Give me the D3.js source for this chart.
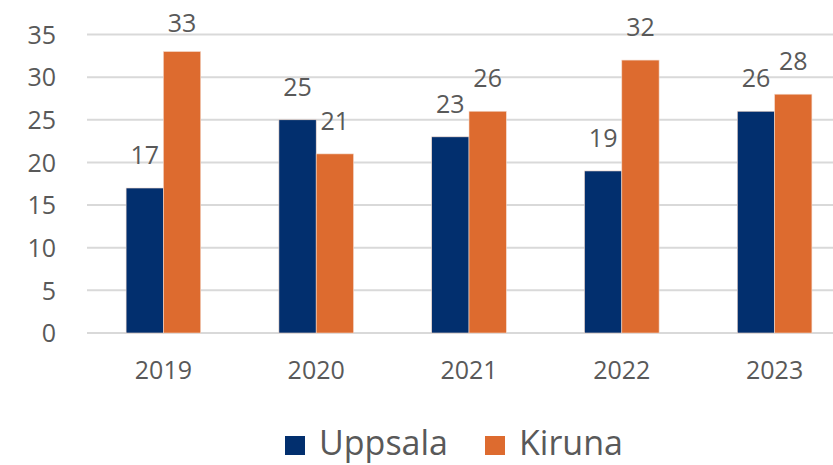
<!DOCTYPE html>
<html lang="sv">
<head>
    <meta charset="UTF-8">
    <title>Uppsala och Kiruna</title>
<script src="https://d3js.org/d3.v7.min.js"></script>
    <style>
        body{
            margin: 0;
            background: #fff;
        }
        text{
            font-family: "Open Sans", sans-serif;
            fill: #595959;
        }
    </style>
</head>
<body>
<svg width="833" height="465" id="canvas"></svg>
<script>

    // data
    const years = ["2019", "2020", "2021", "2022", "2023"];
    const seriesNames = ["Uppsala", "Kiruna"];
    const uppsala = [17, 25, 23, 19, 26];
    const kiruna = [33, 21, 26, 32, 28];
    const yTicks = [0, 5, 10, 15, 20, 25, 30, 35];
    const colors = ["#022F6E", "#DD6B2F"];

    const svg = d3.select("svg");

    const plotLeft = 87, plotRight = 851, plotTop = 34.5, plotBottom = 333;

    const xScale = d3.scaleBand().domain(years).range([plotLeft, plotRight]).padding(0);
    const barW = 37.3;
    const xSub = d3.scaleBand().domain(seriesNames).range([-barW, barW]);
    const yScale = d3.scaleLinear().domain([0, 35]).range([plotBottom, plotTop]);

    // gridlines
    svg.append("g").selectAll("line")
        .data(yTicks)
        .enter().append("line")
        .attr("x1", plotLeft).attr("x2", 833)
        .attr("y1", d => yScale(d)).attr("y2", d => yScale(d))
        .attr("stroke", "#d9d9d9").attr("stroke-width", 2);

    // y axis labels
    const yAxis = d3.axisLeft(yScale).tickValues(yTicks).tickSize(0).tickPadding(0);
    const yg = svg.append("g").attr("transform", "translate(56,0)").call(yAxis);
    yg.select(".domain").remove();
    yg.selectAll("text")
        .attr("font-size", 25)
        .attr("font-family", "Open Sans, sans-serif")
        .attr("fill", "#595959")
        .attr("dy", "0.35em");

    // x axis labels
    const xAxis = d3.axisBottom(xScale).tickSize(0).tickPadding(0);
    const xg = svg.append("g").attr("transform", "translate(0,361)").call(xAxis);
    xg.select(".domain").remove();
    xg.selectAll("text")
        .attr("font-size", 25)
        .attr("font-family", "Open Sans, sans-serif")
        .attr("fill", "#595959");

    const table = years.map((y, i) => ({year: y, values: [uppsala[i], kiruna[i]]}));

    const groups = svg.append("g").selectAll("g")
        .data(table)
        .enter().append("g")
        .attr("transform", d => `translate(${xScale(d.year) + xScale.bandwidth() / 2},0)`);

    groups.selectAll("rect")
        .data(d => d.values.map((v, j) => ({name: seriesNames[j], value: v, j: j})))
        .enter().append("rect")
        .attr("x", d => xSub(d.name))
        .attr("width", xSub.bandwidth())
        .attr("y", d => yScale(d.value))
        .attr("height", d => plotBottom - yScale(d.value))
        .attr("fill", d => colors[d.j])
        .attr("stroke", "#f3d9cc")
        .attr("stroke-width", 0.6);

    // data labels
    groups.selectAll("text.lbl")
        .data(d => d.values.map((v, j) => ({name: seriesNames[j], value: v})))
        .enter().append("text")
        .attr("class", "lbl")
        .attr("x", d => xSub(d.name) + xSub.bandwidth() / 2)
        .attr("y", d => Math.max(yScale(d.value) - 24, 32))
        .attr("text-anchor", "middle")
        .attr("font-size", 25)
        .text(d => d.value);

    // legend
    const legend = svg.append("g");
    const legX = [285, 485];
    seriesNames.forEach((name, i) => {
        legend.append("rect")
            .attr("x", legX[i]).attr("y", 436)
            .attr("width", 20).attr("height", 19)
            .attr("fill", colors[i]);
        legend.append("text")
            .attr("x", legX[i] + 34).attr("y", 455)
            .attr("font-size", 34)
            .text(name);
    });

</script>
</body>
</html>
